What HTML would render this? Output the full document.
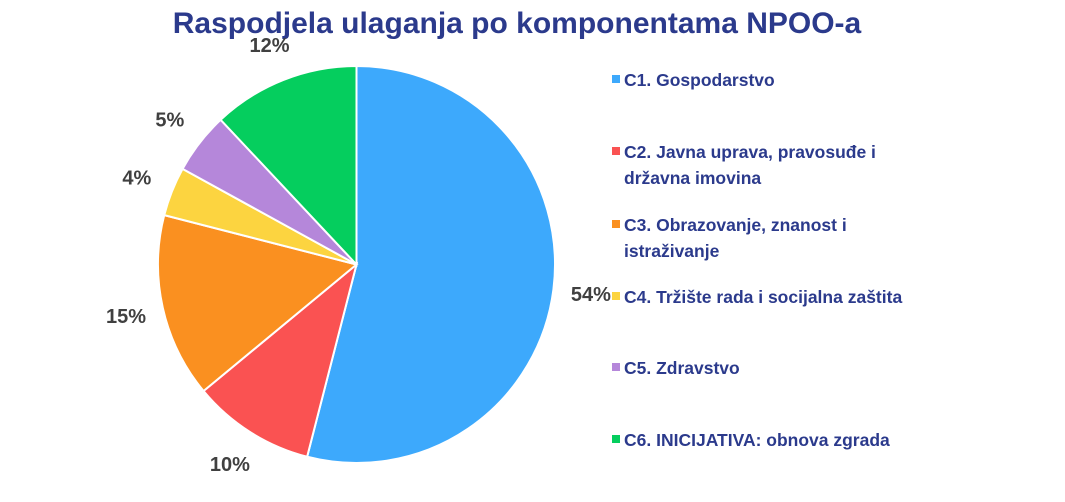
<!DOCTYPE html>
<html><head><meta charset="utf-8">
<style>
body{margin:0;background:#fff;width:1065px;height:497px;overflow:hidden;font-family:"Liberation Sans",sans-serif;}
</style></head>
<body>
<svg width="1065" height="497" xmlns="http://www.w3.org/2000/svg">
<text x="517" y="33" text-anchor="middle" font-size="30" font-weight="bold" fill="#2B3A8C">Raspodjela ulaganja po komponentama NPOO-a</text>
<g id="slices"></g>
<g id="labels"></g>
<g id="legend"></g>
</svg>
<script>
const categories=["C1. Gospodarstvo","C2. Javna uprava, pravosuđe i|državna imovina","C3. Obrazovanje, znanost i|istraživanje","C4. Tržište rada i socijalna zaštita","C5. Zdravstvo","C6. INICIJATIVA: obnova zgrada"];
const values=[54,10,15,4,5,12];
const colors=["#3DA9FC","#FA5252","#FA9020","#FCD440","#B587DA","#05CE5E"];
const legendY=[80,152,225,297,368,440];
const NS="http://www.w3.org/2000/svg";
const cx=356.5,cy=264.5,R=198.5;
const total=values.reduce((a,b)=>a+b,0);
const sg=document.getElementById('slices'),lg=document.getElementById('labels'),leg=document.getElementById('legend');
let acc=0;
function pt(a,r){return [cx+r*Math.sin(a),cy-r*Math.cos(a)];}
values.forEach((v,i)=>{
  const a0=acc/total*2*Math.PI;acc+=v;const a1=acc/total*2*Math.PI;
  const p0=pt(a0,R),p1=pt(a1,R);
  const p=document.createElementNS(NS,'path');
  p.setAttribute('d',`M${cx},${cy}L${p0[0]},${p0[1]}A${R},${R} 0 ${a1-a0>Math.PI?1:0} 1 ${p1[0]},${p1[1]}Z`);
  p.setAttribute('fill',colors[i]);p.setAttribute('stroke','#fff');p.setAttribute('stroke-width','2');
  
  
  sg.appendChild(p);
  const am=(a0+a1)/2,lp=pt(am,R*1.19);
  const t=document.createElementNS(NS,'text');
  t.setAttribute('x',lp[0]);t.setAttribute('y',lp[1]+7);t.setAttribute('text-anchor','middle');
  t.setAttribute('font-size','20');t.setAttribute('font-weight','bold');t.setAttribute('fill','#404040');
  t.textContent=Math.round(v/total*100)+'%';
  
  
  lg.appendChild(t);
  const g=document.createElementNS(NS,'g');
  
  
  const r=document.createElementNS(NS,'rect');
  r.setAttribute('x',612);r.setAttribute('y',legendY[i]-5);r.setAttribute('width',8);r.setAttribute('height',8);r.setAttribute('fill',colors[i]);
  g.appendChild(r);
  categories[i].split('|').forEach((line,j)=>{
    const tt=document.createElementNS(NS,'text');
    tt.setAttribute('x',624);tt.setAttribute('y',legendY[i]+6+j*26);
    tt.setAttribute('font-size','17.5');tt.setAttribute('font-weight','bold');tt.setAttribute('fill','#2B3A8C');
    tt.textContent=line;g.appendChild(tt);
  });
  leg.appendChild(g);
});
</script>
</body></html>
